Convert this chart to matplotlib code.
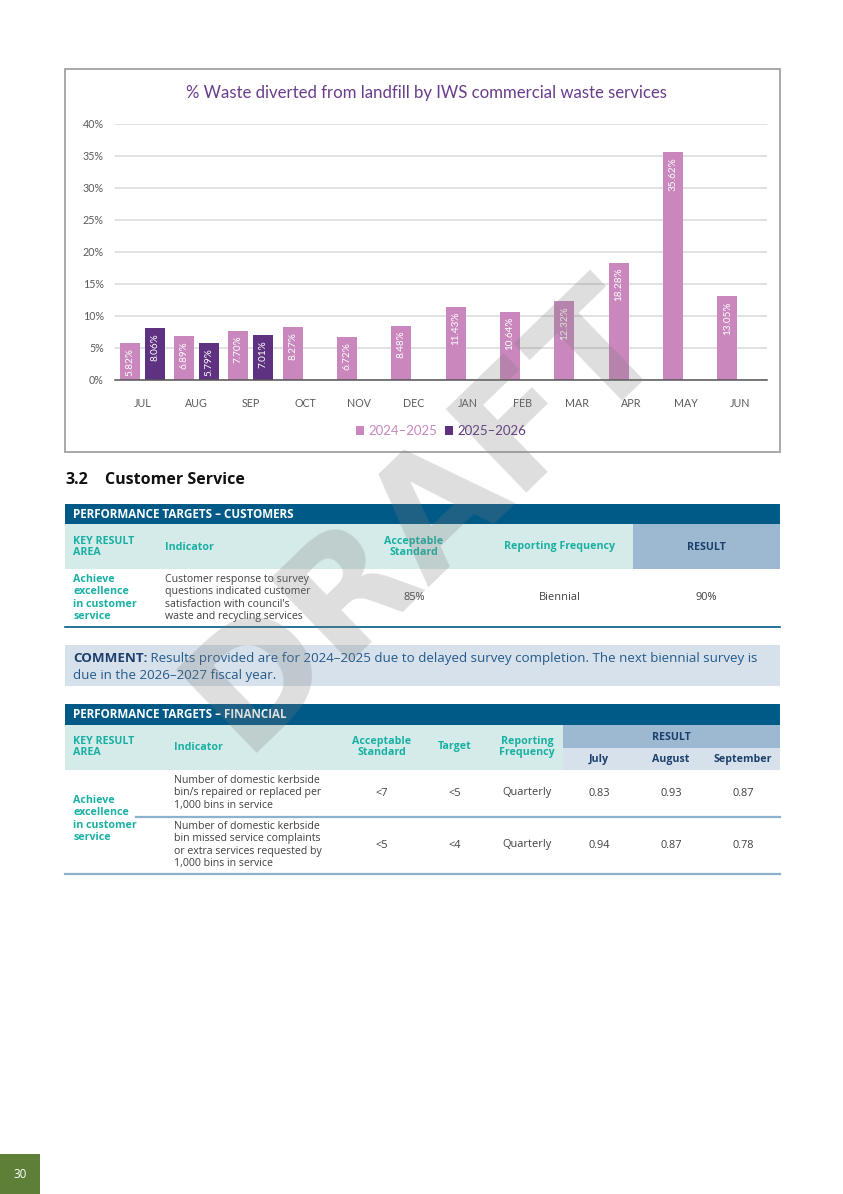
import matplotlib
matplotlib.use("Agg")
import matplotlib.pyplot as plt
from matplotlib.patches import Rectangle
import numpy as np

plt.rcParams['font.family'] = ['Lato', 'DejaVu Sans']

# ---------------- data ----------------
months = ["JUL", "AUG", "SEP", "OCT", "NOV", "DEC", "JAN", "FEB", "MAR", "APR", "MAY", "JUN"]
fy2425 = [5.82, 6.89, 7.70, 8.27, 6.72, 8.48, 11.43, 10.64, 12.32, 18.28, 35.62, 13.05]
fy2526 = [8.06, 5.79, 7.01]
series_names = ["2024\u20132025", "2025\u20132026"]
yticks = [0, 5, 10, 15, 20, 25, 30, 35, 40]
chart_title = "% Waste diverted from landfill by IWS commercial waste services"

t1_title = "PERFORMANCE TARGETS \u2013 CUSTOMERS"
t1_headers = ["KEY RESULT\nAREA", "Indicator", "Acceptable\nStandard", "Reporting Frequency", "RESULT"]
t1_row = ["Achieve\nexcellence\nin customer\nservice",
          "Customer response to survey\nquestions indicated customer\nsatisfaction with council's\nwaste and recycling services",
          "85%", "Biennial", "90%"]

comment_label = "COMMENT:"
comment_line1 = " Results provided are for 2024\u20132025 due to delayed survey completion. The next biennial survey is"
comment_line2 = "due in the 2026\u20132027 fiscal year."

t2_title = "PERFORMANCE TARGETS \u2013 FINANCIAL"
t2_headers = ["KEY RESULT\nAREA", "Indicator", "Acceptable\nStandard", "Target", "Reporting\nFrequency"]
t2_result_months = ["July", "August", "September"]
t2_kra = "Achieve\nexcellence\nin customer\nservice"
t2_rows = [
    ["Number of domestic kerbside\nbin/s repaired or replaced per\n1,000 bins in service", "<7", "<5", "Quarterly", "0.83", "0.93", "0.87"],
    ["Number of domestic kerbside\nbin missed service complaints\nor extra services requested by\n1,000 bins in service", "<5", "<4", "Quarterly", "0.94", "0.87", "0.78"],
]
page_number = "30"
watermark = "DRAFT"

# ---------------- styles ----------------
W, H = 843, 1194
PINK = "#c987bd"
PURPLE = "#5e3280"
TITLE_PURPLE = "#6a3c8c"
GRAY_TXT = "#595959"
DARKBLUE = "#005a88"
TEAL_BG = "#d5ebe9"
TEAL_TXT = "#17b0a2"
STEEL = "#9cb9d1"
LIGHTBLUE = "#d6e1ec"
NAVY = "#1c3f6c"
BODY = "#404040"
LINEBLUE = "#8db1cf"
TF = ['Open Sans', 'DejaVu Sans']

fig = plt.figure(figsize=(W / 100, H / 100), dpi=100)
pg = fig.add_axes([0, 0, 1, 1])
pg.set_xlim(0, W)
pg.set_ylim(H, 0)
pg.axis("off")


def rect(x0, y0, x1, y1, color, **kw):
    pg.add_patch(Rectangle((x0, y0), x1 - x0, y1 - y0, facecolor=color, edgecolor="none", **kw))


def txt(x, y, s, **kw):
    kw.setdefault("family", TF)
    kw.setdefault("va", "center")
    return pg.text(x, y, s, **kw)


# ---------------- chart ----------------
pg.add_patch(Rectangle((65, 69), 715, 383, facecolor="white", edgecolor="#a8a8a8", lw=1.4))

L, R, T, B = 115, 767, 124, 380
ax = fig.add_axes([L / W, 1 - B / H, (R - L) / W, (B - T) / H])
ax.patch.set_alpha(0)
x = np.arange(len(months))
bw = 0.37
off = 0.23
b1 = ax.bar(x - off, fy2425, bw, color=PINK, zorder=3, label=series_names[0])
b2 = ax.bar(x[:len(fy2526)] + off, fy2526, bw, color=PURPLE, zorder=3, label=series_names[1])
for cont, vals in ((b1, fy2425), (b2, fy2526)):
    for rct, v in zip(cont, vals):
        ax.annotate(f"{v:.2f}%", (rct.get_x() + rct.get_width() / 2, rct.get_height()),
                    xytext=(0, -3.5), textcoords="offset points", ha="center", va="top",
                    rotation=90, color="white", fontsize=7.2, zorder=4)
ax.set_xlim(-0.5, len(months) - 0.5)
ax.set_ylim(0, 40)
ax.set_yticks(yticks)
ax.set_yticklabels([f"{v}%" for v in yticks])
ax.set_xticks(x)
ax.set_xticklabels(months)
ax.tick_params(axis="both", length=0, colors=GRAY_TXT, labelsize=7.7)
ax.tick_params(axis="x", pad=13)
ax.tick_params(axis="y", pad=8)
ax.grid(axis="y", color="#d9d9d9", lw=1.1, zorder=0)
for s in ("top", "right", "left"):
    ax.spines[s].set_visible(False)
ax.spines["bottom"].set_color("#555555")
ax.spines["bottom"].set_linewidth(1.1)
ax.spines["bottom"].set_zorder(5)

pg.text(426, 93, chart_title, ha="center", va="center", fontsize=12.1, color=TITLE_PURPLE)

leg = fig.legend(handles=[b1, b2], loc="center", bbox_to_anchor=(441 / W, 1 - 431 / H),
                 ncol=2, frameon=False, fontsize=9.5, handlelength=0.6, handleheight=0.6,
                 handletextpad=0.35, columnspacing=0.6, labelcolor=[PINK, PURPLE])

# ---------------- section heading ----------------
txt(65, 480, "3.2", ha="left", fontsize=11.5, fontweight="bold", color="#111111")
txt(105, 480, "Customer Service", ha="left", fontsize=11.5, fontweight="bold", color="#111111")

FSH = 7.7   # bold headers
FSB = 7.6   # body
FSV = 7.9   # values
LS = 1.16

# ---------------- table 1 ----------------
rect(65, 504, 780, 524, DARKBLUE)
txt(73, 514.5, t1_title, ha="left", fontsize=8.4, fontweight="bold", color="white")
rect(65, 524, 633, 569, TEAL_BG)
rect(633, 524, 780, 569, STEEL)
t1_x = [73, 165, 414, 560, 706]
t1_ha = ["left", "left", "center", "center", "center"]
for i, (hx, hd) in enumerate(zip(t1_x, t1_headers)):
    col = NAVY if i == 4 else TEAL_TXT
    txt(hx, 547, hd, ha=t1_ha[i], fontsize=FSH, fontweight="bold", color=col, linespacing=1.05)
for i, (hx, cell) in enumerate(zip(t1_x, t1_row)):
    if i == 0:
        txt(hx, 598, cell, ha="left", fontsize=FSH, fontweight="bold", color=TEAL_TXT, linespacing=LS)
    elif i == 1:
        txt(hx, 598, cell, ha="left", fontsize=FSB, color=BODY, linespacing=LS)
    else:
        txt(hx, 598, cell, ha=t1_ha[i], fontsize=FSV, color=BODY)
pg.plot([65, 780], [627, 627], color=DARKBLUE, lw=1.2)

# ---------------- comment ----------------
rect(65, 645, 780, 686, LIGHTBLUE)
tc = txt(73, 658.5, comment_label, ha="left", fontsize=9.6, fontweight="bold", color=NAVY)
fig.canvas.draw()
bb = tc.get_window_extent()
xd = pg.transData.inverted().transform((bb.x1, 0))[0]
txt(xd, 658.5, comment_line1, ha="left", fontsize=9.6, color="#245a8a")
txt(73, 675, comment_line2, ha="left", fontsize=9.6, color="#245a8a")

# ---------------- table 2 ----------------
rect(65, 704, 780, 725, DARKBLUE)
txt(73, 714.5, t2_title, ha="left", fontsize=8.4, fontweight="bold", color="white")
rect(65, 725, 563, 770, TEAL_BG)
rect(563, 725, 780, 748, STEEL)
rect(563, 748, 780, 770, LIGHTBLUE)
t2_x = [73, 174, 382, 455, 527]
t2_ha = ["left", "left", "center", "center", "center"]
for hx, hd, ha in zip(t2_x, t2_headers, t2_ha):
    txt(hx, 747, hd, ha=ha, fontsize=FSH, fontweight="bold", color=TEAL_TXT, linespacing=1.05)
txt(671, 737, "RESULT", ha="center", fontsize=FSH, fontweight="bold", color=NAVY)
res_x = [599, 671, 743]
for hx, m in zip(res_x, t2_result_months):
    txt(hx, 759.5, m, ha="center", fontsize=FSH, fontweight="bold", color=NAVY)

row_y = [793, 845]
val_x = [382, 455, 527] + res_x
txt(73, 819, t2_kra, ha="left", fontsize=FSH, fontweight="bold", color=TEAL_TXT, linespacing=LS)
for ry, row in zip(row_y, t2_rows):
    txt(174, ry, row[0], ha="left", fontsize=FSB, color=BODY, linespacing=LS)
    for vx, v in zip(val_x, row[1:]):
        txt(vx, ry, v, ha="center", fontsize=FSV, color=BODY)
pg.plot([136, 780], [816.5, 816.5], color=LINEBLUE, lw=1.6)
pg.plot([65, 780], [873.5, 873.5], color=LINEBLUE, lw=1.6)

# ---------------- page number ----------------
rect(0, 1154, 40, 1194, "#5e7f37")
txt(20, 1174, page_number, ha="center", fontsize=8.5, color="white")

# ---------------- watermark ----------------
fig.text(425 / W, 1 - 515 / H, watermark, ha="center", va="center", rotation=44,
         rotation_mode="anchor", fontsize=114, fontweight="bold", family="DejaVu Sans",
         color="#7a7a7a", alpha=0.25, zorder=100)

fig.savefig("out.png", dpi=100)
